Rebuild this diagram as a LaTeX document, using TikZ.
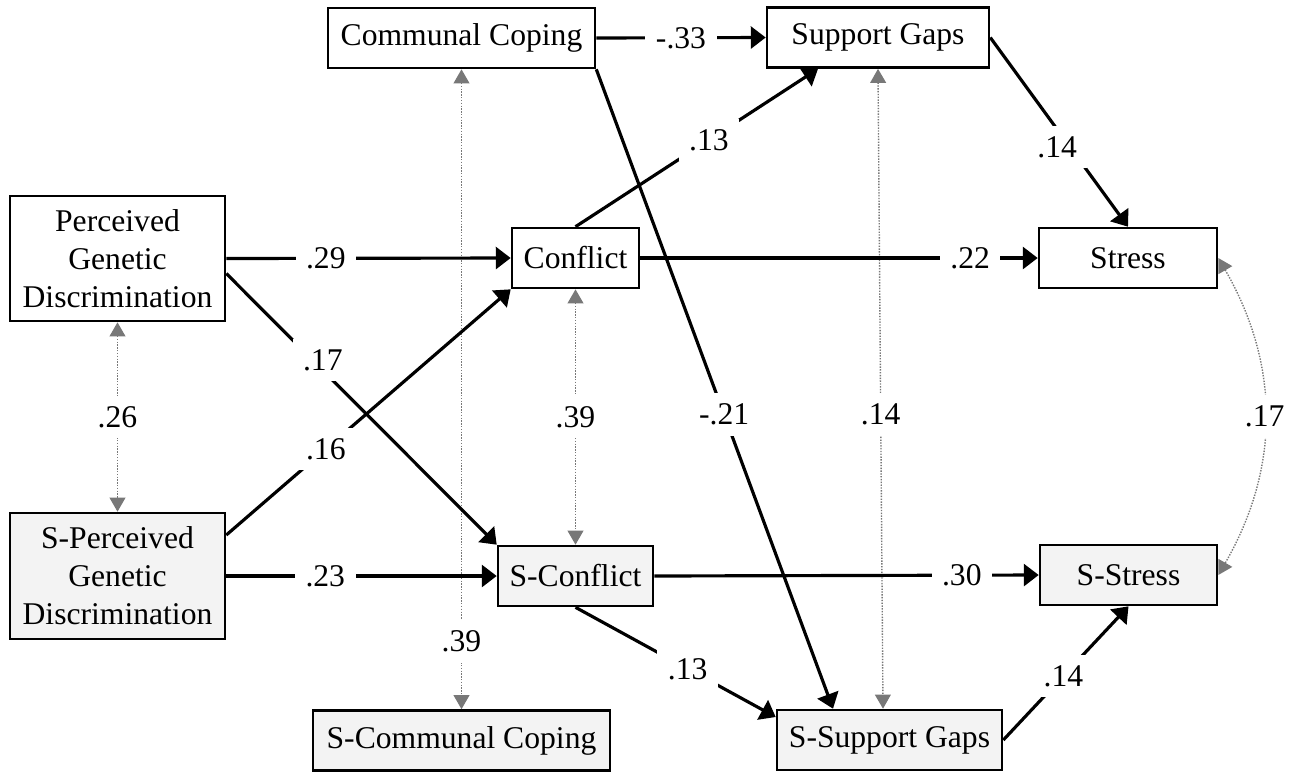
\documentclass[tikz,border=0pt]{standalone}
\usepackage{fontspec}
\setmainfont{Liberation Serif}
\usetikzlibrary{arrows.meta}
\definecolor{boxgray}{RGB}{243,243,243}
\definecolor{corrgray}{RGB}{120,120,120}
\begin{document}
\begin{tikzpicture}[x=0.02cm,y=-0.02cm,
    font=\fontsize{18}{21.6}\selectfont,
    var/.style={draw,line width=1.5pt,fill=white,align=center,inner sep=0pt,minimum height=1.2cm},
    svar/.style={var,fill=boxgray},
    effect/.style={line width=1.8pt,-{Triangle[length=8.5pt,width=12.5pt]}},
    corr/.style={corrgray,line width=0.8pt,dash pattern=on 0.8pt off 0.8pt,
      {Triangle[length=8pt,width=9pt]}-{Triangle[length=8pt,width=9pt]}},
    coef/.style={fill=white,text=black,inner sep=6pt}]
      \useasboundingbox (0,0) rectangle (1291,772);
      \draw
        (461.5,38) node[var,minimum width=5.34cm] (cc){Communal Coping}
        (878,37.5) node[var,minimum width=4.44cm] (sg){Support Gaps}
        (117.5,258.5) node[var,minimum width=4.3cm,minimum height=2.5cm] (pgd){Perceived\\Genetic\\Discrimination}
        (575.5,258) node[var,minimum width=2.54cm] (conflict){Conflict}
        (1128,258) node[var,minimum width=3.56cm] (stress){Stress}
        (117.5,576) node[svar,minimum width=4.3cm,minimum height=2.52cm] (spgd){S-Perceived\\Genetic\\Discrimination}
        (575.5,576) node[svar,minimum width=3.1cm] (sconflict){S-Conflict}
        (1128.5,575) node[svar,minimum width=3.54cm] (sstress){S-Stress}
        (461.5,740.5) node[svar,minimum width=5.94cm] (scc){S-Communal Coping}
        (889.5,740) node[svar,minimum width=4.5cm] (ssg){S-Support Gaps};
      \begin{scope}[corr]
        \draw (pgd.south) to node[coef]{.26} (spgd.north);
        \draw (cc.south) to node[coef,pos=0.894]{.39} (scc.north);
        \draw (conflict.south) to node[coef]{.39} (sconflict.north);
        \draw (sg.south) to node[coef,pos=0.54]{.14} ([xshift=-0.13cm]ssg.north);
        \draw (stress.east) to[bend left=30] node[coef]{.17} (sstress.east);
      \end{scope}
      \begin{scope}[effect]
        \draw (cc.east) to node[coef]{-.33} (sg.west);
        \draw (pgd.east) to node[coef,pos=0.35]{.29} (conflict.west);
        \draw ([yshift=-0.3cm]pgd.east) to node[coef,pos=0.32,xshift=0.2cm]{.17} (sconflict.north west);
        \draw ([yshift=0.82cm]spgd.east) to node[coef,pos=0.35]{.16} (conflict.south west);
        \draw (spgd.east) to node[coef,pos=0.366]{.23} (sconflict.west);
        \draw (conflict.north) to node[coef,pos=0.55]{.13} ([xshift=-1.2cm]sg.south);
        \draw (conflict.east) to node[coef,pos=0.83]{.22} (stress.west);
        \draw (sg.east) to node[coef,pos=0.58,xshift=-0.26cm]{.14} (stress.north);
        \draw (cc.south east) to node[coef,pos=0.54]{-.21} ([xshift=-1.13cm]ssg.north);
        \draw (sconflict.east) to node[coef,pos=0.8]{.30} (sstress.west);
        \draw (sconflict.south) to node[coef,pos=0.56]{.13} ([yshift=0.46cm]ssg.west);
        \draw (ssg.east) to node[coef,pos=0.48]{.14} (sstress.south);
      \end{scope}
    \end{tikzpicture}
\end{document}
